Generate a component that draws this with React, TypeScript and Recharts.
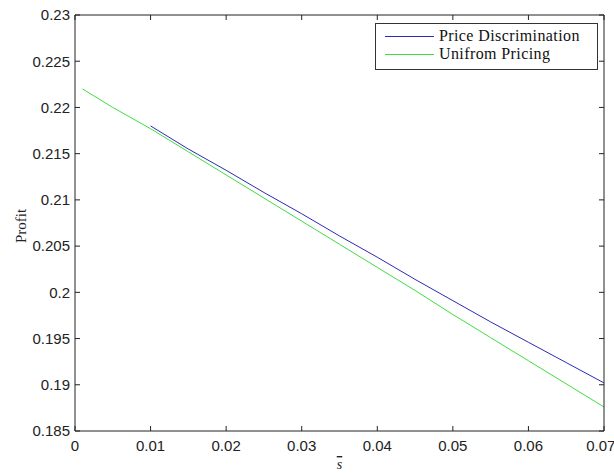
import { LineChart, Line, XAxis, YAxis, Legend } from "recharts";

const sBar = [0.001, 0.005, 0.01, 0.015, 0.02, 0.025, 0.03, 0.035, 0.04, 0.045, 0.05, 0.055, 0.06, 0.065, 0.07];
const discrimination = [null, null, 0.218, 0.2155, 0.2132, 0.2108, 0.2085, 0.2061, 0.2038, 0.2014, 0.1991, 0.1968, 0.1946, 0.1924, 0.1902];
const uniform = [0.222, 0.22, 0.2177, 0.2152, 0.2127, 0.2102, 0.2077, 0.2052, 0.2027, 0.2002, 0.1976, 0.1951, 0.1926, 0.1901, 0.1876];

const xTicks = [0, 0.01, 0.02, 0.03, 0.04, 0.05, 0.06, 0.07];
const yTicks = [0.185, 0.19, 0.195, 0.2, 0.205, 0.21, 0.215, 0.22, 0.225, 0.23];

const data = sBar.map((s, i) => ({ s, pd: discrimination[i], up: uniform[i] }));

const BLUE = "#2b2bb8";
const GREEN = "#3ede3e";
const AXIS = "#222";
const colors: Record<string, string> = { pd: BLUE, up: GREEN };
const tickFont = { fill: "#222", fontSize: 15, fontFamily: "Liberation Sans, Arial, sans-serif" };
const blank = () => "";

function LegendBox({ payload }: any) {
  return (
    <div
      style={{
        width: 223,
        height: 47,
        boxSizing: "border-box",
        border: "1px solid #333",
        background: "#fff",
        fontFamily: "Liberation Serif, Times New Roman, serif",
        fontSize: 16,
        letterSpacing: 0.4,
        color: "#111",
        paddingTop: 3,
      }}
    >
      {(payload || []).map((p: any) => (
        <div key={p.value} style={{ display: "flex", alignItems: "center", height: 18, marginLeft: 9 }}>
          <div style={{ width: 49, height: 1, background: colors[p.dataKey], marginRight: 5 }} />
          <span>{p.value}</span>
        </div>
      ))}
    </div>
  );
}

export default function App() {
  return (
    <div style={{ position: "absolute", left: 0, top: 0, background: "#fff" }}>
      <LineChart width={614} height={473} data={data} margin={{ top: 14, right: 9, left: 0, bottom: 0 }}>
        <XAxis
          xAxisId="b"
          dataKey="s"
          type="number"
          domain={[0, 0.07]}
          ticks={xTicks}
          height={42}
          tickSize={-5}
          tickMargin={14}
          tick={tickFont}
          stroke={AXIS}
          allowDataOverflow
          label={(props: any) => {
            const vb = props.viewBox;
            return (
              <text
                x={vb.x + vb.width / 2}
                y={vb.y + 38}
                textAnchor="middle"
                fontFamily="Liberation Serif, serif"
                fontStyle="italic"
                fontSize={14}
                fill="#222"
                style={{ textDecoration: "overline" }}
              >
                s
              </text>
            );
          }}
        />
        <XAxis
          xAxisId="t"
          dataKey="s"
          type="number"
          orientation="top"
          domain={[0, 0.07]}
          ticks={xTicks}
          height={1}
          tickSize={-5}
          tickFormatter={blank}
          stroke={AXIS}
          allowDataOverflow
        />
        <YAxis
          yAxisId="l"
          type="number"
          domain={[0.185, 0.23]}
          ticks={yTicks}
          width={75}
          tickSize={-5}
          tickMargin={10}
          tick={tickFont}
          stroke={AXIS}
          allowDataOverflow
          label={(props: any) => {
            const vb = props.viewBox;
            const cx = vb.x + 21;
            const cy = vb.y + vb.height / 2 + 3;
            return (
              <text
                x={cx}
                y={cy}
                transform={`rotate(-90 ${cx} ${cy})`}
                textAnchor="middle"
                dominantBaseline="central"
                fontFamily="Liberation Serif, serif"
                fontSize={15}
                fill="#222"
              >
                Profit
              </text>
            );
          }}
        />
        <YAxis
          yAxisId="r"
          type="number"
          orientation="right"
          domain={[0.185, 0.23]}
          ticks={yTicks}
          width={1}
          tickSize={-5}
          tickFormatter={blank}
          stroke={AXIS}
          allowDataOverflow
        />
        <Legend
          layout="vertical"
          align="center"
          verticalAlign="middle"
          wrapperStyle={{ top: 23, left: 375, width: 223 }}
          content={(props: any) => <LegendBox {...props} />}
        />
        <Line
          xAxisId="b"
          yAxisId="l"
          type="linear"
          dataKey="pd"
          name="Price Discrimination"
          stroke={BLUE}
          strokeWidth={1}
          dot={false}
          isAnimationActive={false}
        />
        <Line
          xAxisId="b"
          yAxisId="l"
          type="linear"
          dataKey="up"
          name="Unifrom Pricing"
          stroke={GREEN}
          strokeWidth={1}
          dot={false}
          isAnimationActive={false}
        />
      </LineChart>
    </div>
  );
}
